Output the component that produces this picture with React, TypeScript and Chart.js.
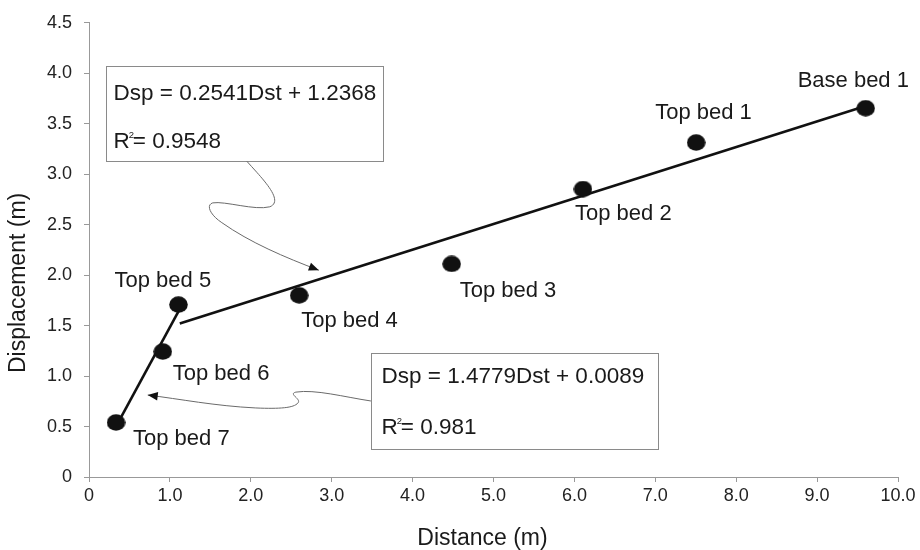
import React, { useEffect, useRef } from 'react';
import { Chart, registerables } from 'chart.js';

Chart.register(...registerables);

// ---- data ----
const pointNames = ['Top bed 7', 'Top bed 6', 'Top bed 5', 'Top bed 4', 'Top bed 3', 'Top bed 2', 'Top bed 1', 'Base bed 1'];
const distance = [0.334, 0.912, 1.106, 2.598, 4.483, 6.106, 7.505, 9.6];
const displacement = [0.54, 1.243, 1.708, 1.8, 2.111, 2.853, 3.314, 3.654];

const fitShortX = [0.34, 1.106];
const fitShortY = [0.51, 1.64];
const fitLongX = [1.122, 9.6];
const fitLongY = [1.52, 3.676];

const eqLongText = ['Dsp = 0.2541Dst + 1.2368', '= 0.9548'];
const eqShortText = ['Dsp = 1.4779Dst + 0.0089', '= 0.981'];

const xTitle = 'Distance (m)';
const yTitle = 'Displacement (m)';

// ---- layout (data-space anchors, pixel offsets) ----
const FONT = '"Liberation Sans", Arial, Helvetica, sans-serif';
const labelOffsets = [[17, 23], [10, 28], [-64, -18], [2, 32], [8, 33], [-8, 31], [-41, -24], [-68, -21]];
const boxLong = { x0: 0.207, y0: 4.071, x1: 3.632, y1: 3.128, tx: 7, b1: 33, b2: 81 };
const boxShort = { x0: 3.485, y0: 1.224, x1: 7.035, y1: 0.282, tx: 10, b1: 29, b2: 80 };
const arrowLong = [[1.951, 3.128], [2.136, 2.962], [2.421, 2.736], [2.235, 2.677], [2.05, 2.638], [1.679, 2.736], [1.53, 2.716], [1.444, 2.697], [1.493, 2.599], [1.642, 2.52], [1.988, 2.324], [2.421, 2.176], [2.841, 2.049]];
const arrowShort = [[3.485, 0.753], [3.163, 0.792], [2.792, 0.871], [2.557, 0.841], [2.458, 0.822], [2.631, 0.773], [2.582, 0.733], [2.532, 0.684], [2.359, 0.674], [2.062, 0.684], [1.555, 0.704], [1.122, 0.773], [0.726, 0.812]];

const fmt = (v: number) => (v === 0 ? '0' : Number(v).toFixed(1));

export default function App() {
  const ref = useRef<HTMLCanvasElement | null>(null);

  useEffect(() => {
    document.body.style.margin = '0';
    const canvas = ref.current;
    if (!canvas) return;

    const dot = document.createElement('canvas');
    dot.width = 19;
    dot.height = 17;
    const dc = dot.getContext('2d')!;
    dc.fillStyle = '#111';
    dc.beginPath();
    dc.ellipse(9.5, 8.5, 9.3, 8.2, 0, 0, Math.PI * 2);
    dc.fill();

    const annot = {
      id: 'annot',
      afterDraw(chart: any) {
        const ctx = chart.ctx as CanvasRenderingContext2D;
        const xs = chart.scales.x;
        const ys = chart.scales.y;
        const px = (v: number) => xs.getPixelForValue(v);
        const py = (v: number) => ys.getPixelForValue(v);
        ctx.save();
        ctx.fillStyle = '#1a1a1a';
        ctx.textBaseline = 'alphabetic';
        ctx.textAlign = 'left';
        ctx.font = `22px ${FONT}`;
        pointNames.forEach((n, i) => {
          const [dx, dy] = labelOffsets[i];
          ctx.fillText(n, px(distance[i]) + dx, py(displacement[i]) + dy);
        });

        const drawBox = (b: any, lines: string[]) => {
          const l = Math.round(px(b.x0)) + 0.5;
          const t = Math.round(py(b.y0)) + 0.5;
          const r = Math.round(px(b.x1)) + 0.5;
          const btm = Math.round(py(b.y1)) + 0.5;
          ctx.fillStyle = '#fff';
          ctx.fillRect(l, t, r - l, btm - t);
          ctx.strokeStyle = '#8a8a8a';
          ctx.lineWidth = 1;
          ctx.strokeRect(l, t, r - l, btm - t);
          ctx.fillStyle = '#1a1a1a';
          ctx.font = `22.5px ${FONT}`;
          ctx.fillText(lines[0], l + b.tx, t + b.b1);
          const rx = l + b.tx;
          ctx.fillText('R', rx, t + b.b2);
          const rw = ctx.measureText('R').width;
          ctx.fillText(lines[1], rx + rw + 3, t + b.b2);
          ctx.font = `9.5px ${FONT}`;
          ctx.fillText('2', rx + rw - 1, t + b.b2 - 10);
        };
        drawBox(boxLong, eqLongText);
        drawBox(boxShort, eqShortText);

        const drawArrow = (pts: number[][]) => {
          const p = pts.map(([a, b]) => [px(a), py(b)]);
          ctx.strokeStyle = '#6a6a6a';
          ctx.lineWidth = 1;
          ctx.beginPath();
          ctx.moveTo(p[0][0], p[0][1]);
          for (let i = 1; i + 2 < p.length; i += 3) {
            ctx.bezierCurveTo(p[i][0], p[i][1], p[i + 1][0], p[i + 1][1], p[i + 2][0], p[i + 2][1]);
          }
          ctx.stroke();
          const tip = p[p.length - 1];
          const prev = p[p.length - 2];
          const ang = Math.atan2(tip[1] - prev[1], tip[0] - prev[0]);
          const len = 10;
          const hw = 4.2;
          ctx.fillStyle = '#111';
          ctx.beginPath();
          ctx.moveTo(tip[0], tip[1]);
          ctx.lineTo(tip[0] - len * Math.cos(ang) + hw * Math.sin(ang), tip[1] - len * Math.sin(ang) - hw * Math.cos(ang));
          ctx.lineTo(tip[0] - len * Math.cos(ang) - hw * Math.sin(ang), tip[1] - len * Math.sin(ang) + hw * Math.cos(ang));
          ctx.closePath();
          ctx.fill();
        };
        drawArrow(arrowLong);
        drawArrow(arrowShort);

        // axis titles
        ctx.fillStyle = '#1a1a1a';
        ctx.font = `23px ${FONT}`;
        ctx.textAlign = 'center';
        ctx.fillText(xTitle, chart.chartArea.left + (chart.chartArea.right - chart.chartArea.left) / 2 - 11, 545);
        ctx.save();
        ctx.translate(25, chart.chartArea.top + (chart.chartArea.bottom - chart.chartArea.top) / 2 + 33);
        ctx.rotate(-Math.PI / 2);
        ctx.fillText(yTitle, 0, 0);
        ctx.restore();
        ctx.restore();
      },
    };

    const chart = new Chart(canvas, {
      type: 'scatter',
      data: {
        datasets: [
          {
            data: distance.map((x, i) => ({ x, y: displacement[i] })),
            pointStyle: dot as any,
            pointRadius: 9,
            backgroundColor: '#111',
            borderColor: '#111',
            showLine: false,
          },
          {
            data: fitShortX.map((x, i) => ({ x, y: fitShortY[i] })),
            showLine: true,
            borderColor: '#111',
            borderWidth: 2.6,
            pointRadius: 0,
          },
          {
            data: fitLongX.map((x, i) => ({ x, y: fitLongY[i] })),
            showLine: true,
            borderColor: '#111',
            borderWidth: 2.6,
            pointRadius: 0,
          },
        ],
      },
      options: {
        animation: false,
        responsive: false,
        maintainAspectRatio: false,
        events: [],
        layout: { padding: { top: 18, right: 22, left: 0, bottom: 0 } },
        plugins: { legend: { display: false }, tooltip: { enabled: false } },
        scales: {
          x: {
            type: 'linear',
            min: 0,
            max: 10,
            ticks: { stepSize: 1, callback: (v: any) => fmt(v), font: { family: FONT, size: 18 }, color: '#222', padding: 3, maxRotation: 0 },
            grid: { display: true, drawOnChartArea: false, drawTicks: true, tickLength: 5, color: '#999' },
            border: { display: true, color: '#999', width: 1 },
            afterFit: (s: any) => { s.height = 73; },
          },
          y: {
            type: 'linear',
            min: 0,
            max: 4.5,
            ticks: { stepSize: 0.5, callback: (v: any) => fmt(v), font: { family: FONT, size: 18 }, color: '#222', padding: 12 },
            grid: { display: true, drawOnChartArea: false, drawTicks: true, tickLength: 5, color: '#999' },
            border: { display: true, color: '#999', width: 1 },
            afterFit: (s: any) => { s.width = 89; },
          },
        },
      },
      plugins: [annot],
    });
    return () => chart.destroy();
  }, []);

  return (
    <div style={{ width: 920, height: 550, background: '#fff' }}>
      <canvas ref={ref} width={920} height={550} style={{ display: 'block', width: 920, height: 550 }} />
    </div>
  );
}
